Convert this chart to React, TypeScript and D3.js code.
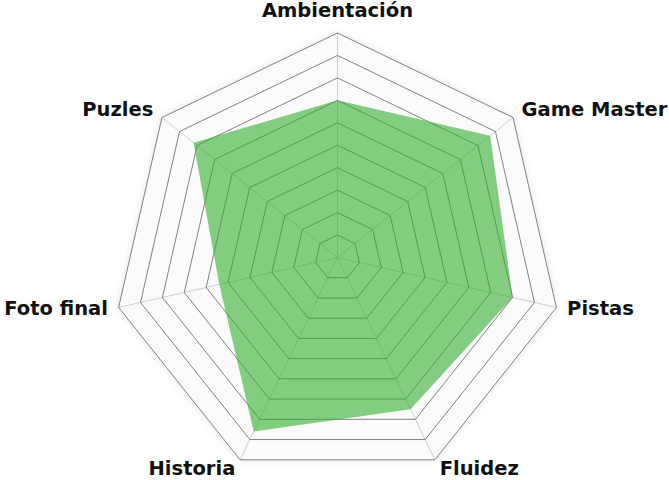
import React, { useEffect, useRef } from 'react';
import * as d3 from 'd3';

const categories = ['Ambientación', 'Game Master', 'Pistas', 'Fluidez', 'Historia', 'Foto final', 'Puzles'];
const scores = [70, 87, 80, 75, 86, 54, 82];
const ringLevels = [10, 20, 30, 40, 50, 60, 70, 80, 90, 100];

const W = 669;
const H = 480;

const App: React.FC = () => {
  const svgRef = useRef<SVGSVGElement>(null);

  useEffect(() => {
    if (!svgRef.current) return;
    const svg = d3.select(svgRef.current);
    svg.selectAll('*').remove();

    const cx = 337.5;
    const cy = 257.5;
    const R = 224.5;
    const n = categories.length;

    const angle = d3.scaleLinear().domain([0, n]).range([0, 2 * Math.PI]);
    const radius = d3.scaleLinear().domain([0, 100]).range([0, R]);

    const pt = (i: number, v: number): [number, number] => {
      const a = angle(i);
      return [cx + radius(v) * Math.sin(a), cy - radius(v) * Math.cos(a)];
    };

    // soft shadow around the web
    const defs = svg.append('defs');
    const shadow = defs.append('filter').attr('id', 'soft')
      .attr('x', '-20%').attr('y', '-20%').attr('width', '140%').attr('height', '140%');
    shadow.append('feGaussianBlur').attr('in', 'SourceAlpha').attr('stdDeviation', 4);
    shadow.append('feComponentTransfer').append('feFuncA').attr('type', 'linear').attr('slope', 0.12);
    const merge = shadow.append('feMerge');
    merge.append('feMergeNode');
    merge.append('feMergeNode').attr('in', 'SourceGraphic');

    const ringPath = (v: number) =>
      d3.line()(d3.range(n).map(i => pt(i, v))) + 'Z';

    // background
    svg.append('path')
      .attr('d', ringPath(100))
      .attr('fill', '#fbfbfb')
      .attr('filter', 'url(#soft)');

    // spokes
    d3.range(n).forEach(i => {
      const [x, y] = pt(i, 100);
      svg.append('line')
        .attr('x1', cx).attr('y1', cy)
        .attr('x2', x).attr('y2', y)
        .attr('stroke', '#cfcfcf')
        .attr('stroke-width', 1);
    });

    // rings
    ringLevels.forEach(v => {
      svg.append('path')
        .attr('d', ringPath(v))
        .attr('fill', 'none')
        .attr('stroke', '#626262')
        .attr('stroke-width', 0.8);
    });

    // data area
    svg.append('path')
      .attr('d', d3.line()(scores.map((s, i) => pt(i, s))) + 'Z')
      .attr('fill', 'rgb(50,175,45)')
      .attr('fill-opacity', 0.6)
      .attr('stroke', 'none');

    // labels
    categories.forEach((c, i) => {
      const s = Math.sin(angle(i));
      const isTop = i === 0;
      const [x, y] = pt(i, radius.invert(R + (isTop ? 16 : 11)));
      svg.append('text')
        .attr('x', x)
        .attr('y', y)
        .attr('text-anchor', isTop ? 'middle' : s > 0 ? 'start' : 'end')
        .attr('dominant-baseline', isTop ? 'auto' : 'middle')
        .style('font-family', '"DejaVu Sans", Verdana, sans-serif')
        .style('font-size', '19.5px')
        .style('font-weight', 'bold')
        .style('fill', '#111')
        .text(c);
    });
  }, []);

  return (
    <svg ref={svgRef} width={W} height={H} style={{ position: 'absolute', left: 0, top: 0 }} />
  );
};

export default App;
